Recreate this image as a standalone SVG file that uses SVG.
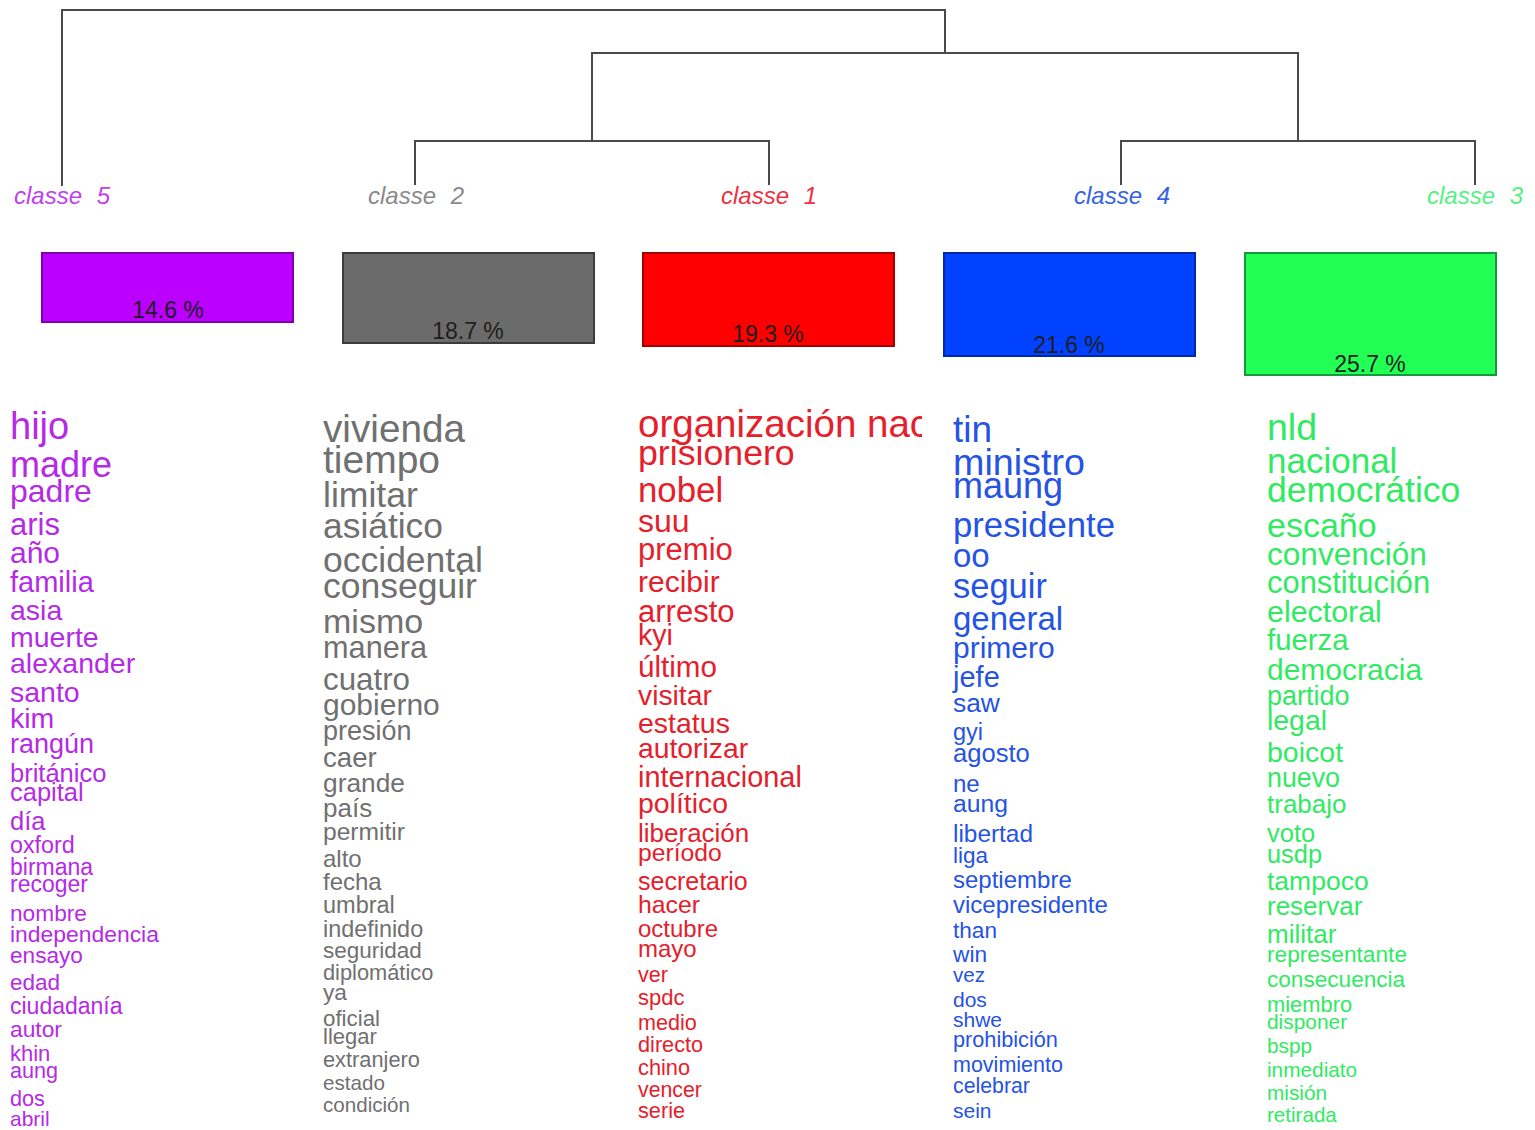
<svg xmlns="http://www.w3.org/2000/svg" width="1535" height="1130" viewBox="0 0 1535 1130">
<style>
text{font-family:"Liberation Sans",Arial,Helvetica,sans-serif}
.lbl{font-style:italic;font-size:24px;text-anchor:middle;word-spacing:8px}
.pct{font-size:23px;text-anchor:middle;fill:#1e1e1e}
.link{fill:none;stroke:#4a4a4a;stroke-width:2}
.c5{fill:#b52ae6}.c2{fill:#707070}.c1{fill:#e5202b}.c4{fill:#2553e3}.c3{fill:#30ea62}
</style>
<defs>
<clipPath id="clipRed"><rect x="600" y="380" width="322" height="760"/></clipPath>
</defs>
<rect width="1535" height="1130" fill="#ffffff"/>

<g id="connectors">
<path class="link" d="M62,186 V10 H945 V53"/>
<path class="link" d="M592,141 V53 H1298 V141"/>
<path class="link" d="M415,185 V141 H769 V185"/>
<path class="link" d="M1121,185 V141 H1475 V185"/>
</g>

<g id="classe5">
<text class="lbl" x="62" y="204" fill="#c040f0">classe 5</text>
<rect x="42" y="253" width="251" height="69" fill="#bb00ff" stroke="#7d00aa" stroke-width="2"/>
<text class="pct" x="168" y="318">14.6 %</text>
<g class="c5">
<text x="10" y="439" font-size="38">hijo</text>
<text x="10" y="477" font-size="36">madre</text>
<text x="10" y="502" font-size="32">padre</text>
<text x="10" y="535" font-size="31">aris</text>
<text x="10" y="563" font-size="30">año</text>
<text x="10" y="592" font-size="29">familia</text>
<text x="10" y="620" font-size="28.5">asia</text>
<text x="10" y="647" font-size="28.5">muerte</text>
<text x="10" y="673" font-size="28.5">alexander</text>
<text x="10" y="702" font-size="28.5">santo</text>
<text x="10" y="728" font-size="28.5">kim</text>
<text x="10" y="753" font-size="27">rangún</text>
<text x="10" y="782" font-size="25.5">británico</text>
<text x="10" y="801" font-size="25.5">capital</text>
<text x="10" y="830" font-size="25.5">día</text>
<text x="10" y="853" font-size="23.3">oxford</text>
<text x="10" y="875" font-size="23">birmana</text>
<text x="10" y="892" font-size="23">recoger</text>
<text x="10" y="921" font-size="22.7">nombre</text>
<text x="10" y="942" font-size="22.9">independencia</text>
<text x="10" y="963" font-size="22.6">ensayo</text>
<text x="10" y="990" font-size="22.5">edad</text>
<text x="10" y="1014" font-size="23">ciudadanía</text>
<text x="10" y="1037" font-size="22.8">autor</text>
<text x="10" y="1061" font-size="22">khin</text>
<text x="10" y="1078" font-size="21.6">aung</text>
<text x="10" y="1106" font-size="21.7">dos</text>
<text x="10" y="1126" font-size="21">abril</text>
</g>
</g>

<g id="classe2">
<text class="lbl" x="416" y="204" fill="#8a8a8a">classe 2</text>
<rect x="343" y="253" width="251" height="90" fill="#6b6b6b" stroke="#3c3c3c" stroke-width="2"/>
<text class="pct" x="468" y="339">18.7 %</text>
<g class="c2">
<text x="323" y="442" font-size="38.7">vivienda</text>
<text x="323" y="473" font-size="39">tiempo</text>
<text x="323" y="507" font-size="35.6">limitar</text>
<text x="323" y="538" font-size="35.4">asiático</text>
<text x="323" y="572" font-size="35.5">occidental</text>
<text x="323" y="598" font-size="35.5">conseguir</text>
<text x="323" y="633" font-size="34">mismo</text>
<text x="323" y="658" font-size="30.7">manera</text>
<text x="323" y="690" font-size="31.3">cuatro</text>
<text x="323" y="715" font-size="30">gobierno</text>
<text x="323" y="740" font-size="27">presión</text>
<text x="323" y="767" font-size="27.6">caer</text>
<text x="323" y="792" font-size="26.3">grande</text>
<text x="323" y="817" font-size="26">país</text>
<text x="323" y="840" font-size="24.6">permitir</text>
<text x="323" y="867" font-size="24">alto</text>
<text x="323" y="890" font-size="24">fecha</text>
<text x="323" y="913" font-size="23.5">umbral</text>
<text x="323" y="937" font-size="23.4">indefinido</text>
<text x="323" y="958" font-size="22.5">seguridad</text>
<text x="323" y="980" font-size="21.8">diplomático</text>
<text x="323" y="1000" font-size="22.7">ya</text>
<text x="323" y="1026" font-size="22.3">oficial</text>
<text x="323" y="1044" font-size="22">llegar</text>
<text x="323" y="1067" font-size="21.8">extranjero</text>
<text x="323" y="1090" font-size="20.6">estado</text>
<text x="323" y="1112" font-size="20.6">condición</text>
</g>
</g>

<g id="classe1">
<text class="lbl" x="769" y="204" fill="#ee2f3f">classe 1</text>
<rect x="643" y="253" width="251" height="93" fill="#ff0000" stroke="#a00000" stroke-width="2"/>
<text class="pct" x="768" y="342">19.3 %</text>
<g class="c1">
<text x="638" y="437" font-size="38.5" clip-path="url(#clipRed)">organización nacional</text>
<text x="638" y="465" font-size="35.7">prisionero</text>
<text x="638" y="502" font-size="34.8">nobel</text>
<text x="638" y="532" font-size="32">suu</text>
<text x="638" y="560" font-size="31">premio</text>
<text x="638" y="592" font-size="30">recibir</text>
<text x="638" y="622" font-size="31">arresto</text>
<text x="638" y="645" font-size="28.6">kyi</text>
<text x="638" y="677" font-size="29.6">último</text>
<text x="638" y="705" font-size="28.3">visitar</text>
<text x="638" y="733" font-size="28.5">estatus</text>
<text x="638" y="758" font-size="28.3">autorizar</text>
<text x="638" y="787" font-size="28.9">internacional</text>
<text x="638" y="813" font-size="28.4">político</text>
<text x="638" y="842" font-size="26">liberación</text>
<text x="638" y="861" font-size="24.7">período</text>
<text x="638" y="890" font-size="25">secretario</text>
<text x="638" y="913" font-size="24.8">hacer</text>
<text x="638" y="937" font-size="24">octubre</text>
<text x="638" y="957" font-size="24">mayo</text>
<text x="638" y="982" font-size="21.6">ver</text>
<text x="638" y="1005" font-size="22">spdc</text>
<text x="638" y="1030" font-size="21.6">medio</text>
<text x="638" y="1052" font-size="21.7">directo</text>
<text x="638" y="1075" font-size="21.8">chino</text>
<text x="638" y="1097" font-size="21.3">vencer</text>
<text x="638" y="1118" font-size="21.7">serie</text>
</g>
</g>

<g id="classe4">
<text class="lbl" x="1122" y="204" fill="#3462e6">classe 4</text>
<rect x="944" y="253" width="251" height="103" fill="#0042ff" stroke="#0028a8" stroke-width="2"/>
<text class="pct" x="1069" y="353">21.6 %</text>
<g class="c4">
<text x="953" y="442" font-size="37">tin</text>
<text x="953" y="475" font-size="37.7">ministro</text>
<text x="953" y="498" font-size="36">maung</text>
<text x="953" y="537" font-size="34.7">presidente</text>
<text x="953" y="567" font-size="33">oo</text>
<text x="953" y="598" font-size="34.5">seguir</text>
<text x="953" y="630" font-size="33">general</text>
<text x="953" y="658" font-size="30">primero</text>
<text x="953" y="687" font-size="29">jefe</text>
<text x="953" y="712" font-size="26.4">saw</text>
<text x="953" y="740" font-size="23.5">gyi</text>
<text x="953" y="762" font-size="25.6">agosto</text>
<text x="953" y="792" font-size="24">ne</text>
<text x="953" y="812" font-size="24.7">aung</text>
<text x="953" y="842" font-size="24.4">libertad</text>
<text x="953" y="863" font-size="22.5">liga</text>
<text x="953" y="888" font-size="24">septiembre</text>
<text x="953" y="913" font-size="24">vicepresidente</text>
<text x="953" y="938" font-size="22.6">than</text>
<text x="953" y="962" font-size="22.7">win</text>
<text x="953" y="982" font-size="20.6">vez</text>
<text x="953" y="1007" font-size="21">dos</text>
<text x="953" y="1027" font-size="21">shwe</text>
<text x="953" y="1047" font-size="21.7">prohibición</text>
<text x="953" y="1072" font-size="21.5">movimiento</text>
<text x="953" y="1093" font-size="21.3">celebrar</text>
<text x="953" y="1118" font-size="21">sein</text>
</g>
</g>

<g id="classe3">
<text class="lbl" x="1475" y="204" fill="#55f085">classe 3</text>
<rect x="1245" y="253" width="251" height="122" fill="#22ff55" stroke="#15993a" stroke-width="2"/>
<text class="pct" x="1370" y="372">25.7 %</text>
<g class="c3">
<text x="1267" y="440" font-size="37.5">nld</text>
<text x="1267" y="473" font-size="35">nacional</text>
<text x="1267" y="502" font-size="35.5">democrático</text>
<text x="1267" y="537" font-size="34">escaño</text>
<text x="1267" y="565" font-size="31.6">convención</text>
<text x="1267" y="593" font-size="30.9">constitución</text>
<text x="1267" y="622" font-size="30.4">electoral</text>
<text x="1267" y="650" font-size="29.3">fuerza</text>
<text x="1267" y="680" font-size="30">democracia</text>
<text x="1267" y="705" font-size="27">partido</text>
<text x="1267" y="730" font-size="28.4">legal</text>
<text x="1267" y="762" font-size="28.5">boicot</text>
<text x="1267" y="787" font-size="26.8">nuevo</text>
<text x="1267" y="813" font-size="26">trabajo</text>
<text x="1267" y="842" font-size="25.5">voto</text>
<text x="1267" y="863" font-size="25.4">usdp</text>
<text x="1267" y="890" font-size="26.5">tampoco</text>
<text x="1267" y="915" font-size="26">reservar</text>
<text x="1267" y="943" font-size="26">militar</text>
<text x="1267" y="962" font-size="22.7">representante</text>
<text x="1267" y="987" font-size="22.6">consecuencia</text>
<text x="1267" y="1012" font-size="21.9">miembro</text>
<text x="1267" y="1029" font-size="20.9">disponer</text>
<text x="1267" y="1053" font-size="20.8">bspp</text>
<text x="1267" y="1077" font-size="20.8">inmediato</text>
<text x="1267" y="1100" font-size="20.8">misión</text>
<text x="1267" y="1122" font-size="20.6">retirada</text>
</g>
</g>
</svg>
